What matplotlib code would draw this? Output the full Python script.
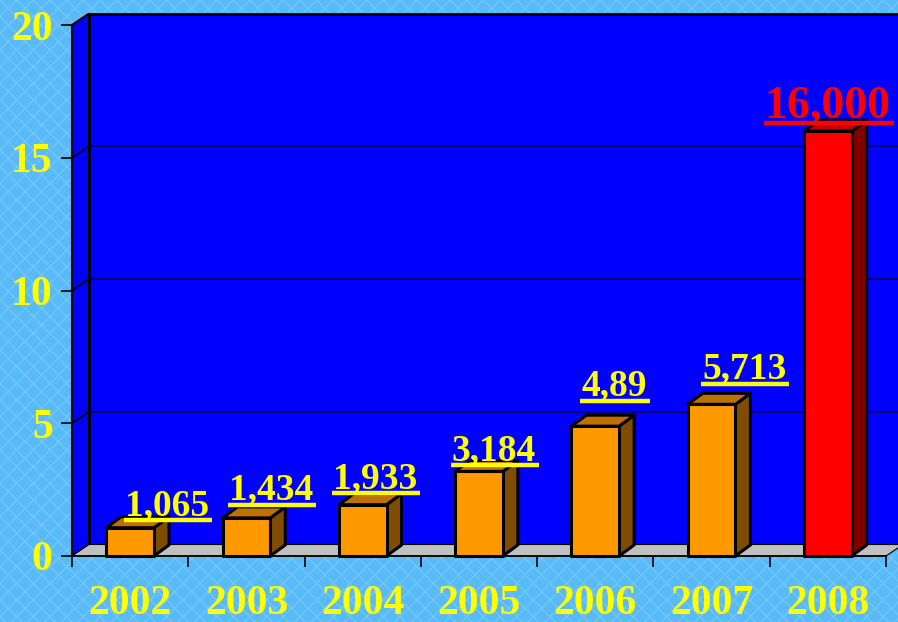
import matplotlib
matplotlib.use("Agg")
import matplotlib.pyplot as plt
from matplotlib.patches import Rectangle, Polygon
from matplotlib.lines import Line2D
from matplotlib.transforms import IdentityTransform, offset_copy
from matplotlib.ticker import FixedLocator, NullFormatter, FixedFormatter

# ---- data ----
years = ["2002", "2003", "2004", "2005", "2006", "2007", "2008"]
values = [1.065, 1.434, 1.933, 3.184, 4.89, 5.713, 16.0]
value_labels = ["1,065", "1,434", "1,933", "3,184", "4,89", "5,713", "16,000"]
y_ticks = [0, 5, 10, 15, 20]

# ---- styles / positions ----
label_dx = [0.317, 0.211, 0.105, 0.129, 0.161, 0.279, -0.001]
label_dy = [0.29, 0.49, 0.44, 0.24, 0.95, 0.77, 0.31]
front_cols = ["#FF9900"] * 6 + ["#FF0000"]
top_cols = ["#C07000"] * 6 + ["#C00000"]
side_cols = ["#7F4C00"] * 6 + ["#800000"]
label_cols = ["#FFFF00"] * 6 + ["#FF0000"]
label_sizes = [27] * 6 + [33]

W, H = 898, 622
fig = plt.figure(figsize=(W / 100, H / 100), dpi=100)
fig.patch.set_facecolor("#58BAF6")
bg = Rectangle((0, 0), 1, 1, transform=fig.transFigure, facecolor="#58BAF6",
               edgecolor="#72C6F9", hatch="xx", lw=0, zorder=-10)
fig.patches.append(bg)

ax = fig.add_axes([72 / W, 66 / H, 814 / W, 531 / H])
ax.set_xlim(-0.5, 6.5)
ax.set_ylim(0, 20)
ax.patch.set_alpha(0)

# depth offsets in data units
DX = 17 / 116.3
DY = 11.5 / 26.55
BDX = 15 / 116.3
BDY = 11 / 26.55
BW = 0.41
wall_col = "#0000FF"
grid_col = "#000060"

# back wall
ax.add_patch(Rectangle((-0.5 + DX, DY), 7.5, 20, facecolor=wall_col,
                       edgecolor="black", lw=2, clip_on=False, zorder=1))
# left wall
ax.add_patch(Polygon([(-0.5, 0), (-0.5, 20), (-0.5 + DX, 20 + DY), (-0.5 + DX, DY)],
                     closed=True, facecolor=wall_col, edgecolor="black", lw=1.5,
                     clip_on=False, zorder=1.5))
# gridlines
for t in y_ticks[1:-1]:
    ax.add_line(Line2D([-0.5 + DX, 7.2], [t + DY, t + DY], color=grid_col, lw=1.2,
                       clip_on=False, zorder=1.2))
    ax.add_line(Line2D([-0.5, -0.5 + DX], [t, t + DY], color="black", lw=1.2,
                       clip_on=False, zorder=1.6))
# floor
ax.add_patch(Polygon([(-0.5, 0), (6.5, 0), (6.5 + DX, DY), (-0.5 + DX, DY)],
                     closed=True, facecolor="#C0C0C0", edgecolor="black", lw=0.8,
                     clip_on=False, zorder=1.7))

# bars
for i, v in enumerate(values):
    x0 = i - BW / 2
    x1 = x0 + BW
    ax.add_patch(Polygon([(x1, 0), (x1 + BDX, BDY), (x1 + BDX, v + BDY), (x1, v)],
                         closed=True, facecolor=side_cols[i], edgecolor="black",
                         lw=2.2, joinstyle="round", clip_on=False, zorder=3))
    ax.add_patch(Polygon([(x0, v), (x1, v), (x1 + BDX, v + BDY), (x0 + BDX, v + BDY)],
                         closed=True, facecolor=top_cols[i], edgecolor="black",
                         lw=2.2, joinstyle="round", clip_on=False, zorder=3))
    ax.add_patch(Rectangle((x0, 0), BW, v, facecolor=front_cols[i], edgecolor="black",
                           lw=2.2, joinstyle="round", clip_on=False, zorder=4))

# axes styling
for s in ["top", "right"]:
    ax.spines[s].set_visible(False)
ax.spines["left"].set_color("black")
ax.spines["bottom"].set_color("black")
ax.spines["left"].set_linewidth(1.2)
ax.spines["bottom"].set_linewidth(1.2)
ax.spines["left"].set_zorder(5)
ax.spines["bottom"].set_zorder(5)

serif = ["Liberation Serif", "DejaVu Serif"]
ax.set_yticks(y_ticks)
ax.set_yticklabels([str(t) for t in y_ticks])
ax.tick_params(axis="y", length=8, width=1.2, color="black", pad=6,
               labelcolor="#FFFF00", labelsize=30)
ax.xaxis.set_major_locator(FixedLocator([i - 0.5 for i in range(len(years) + 1)]))
ax.xaxis.set_major_formatter(NullFormatter())
ax.xaxis.set_minor_locator(FixedLocator(list(range(len(years)))))
ax.xaxis.set_minor_formatter(FixedFormatter(years))
ax.tick_params(axis="x", which="major", length=8, width=1.2, color="black")
ax.tick_params(axis="x", which="minor", length=0, pad=21, labelcolor="#FFFF00",
               labelsize=30)
for lab in ax.get_yticklabels() + ax.get_xticklabels(minor=True):
    lab.set_fontfamily(serif)
    lab.set_fontweight("bold")

# value labels with underline
texts = []
for i, v in enumerate(values):
    tr = offset_copy(ax.transData, fig=fig, x=0, y=5, units="dots")
    t = ax.text(i + label_dx[i], v + label_dy[i], value_labels[i], transform=tr,
                ha="center", va="baseline", color=label_cols[i],
                fontsize=label_sizes[i], fontweight="bold", family=serif,
                clip_on=False, zorder=6)
    texts.append(t)

fig.canvas.draw()
r = fig.canvas.get_renderer()
for i, t in enumerate(texts):
    bb = t.get_window_extent(r)
    _, yd = ax.transData.transform((0, values[i] + label_dy[i]))
    ln = Line2D([bb.x0 - 1, bb.x1 + 3], [yd, yd], transform=IdentityTransform(),
                color=label_cols[i], lw=3.2, solid_capstyle="butt", zorder=6)
    fig.lines.append(ln)

fig.savefig("out.png", dpi=100, facecolor=fig.get_facecolor())
